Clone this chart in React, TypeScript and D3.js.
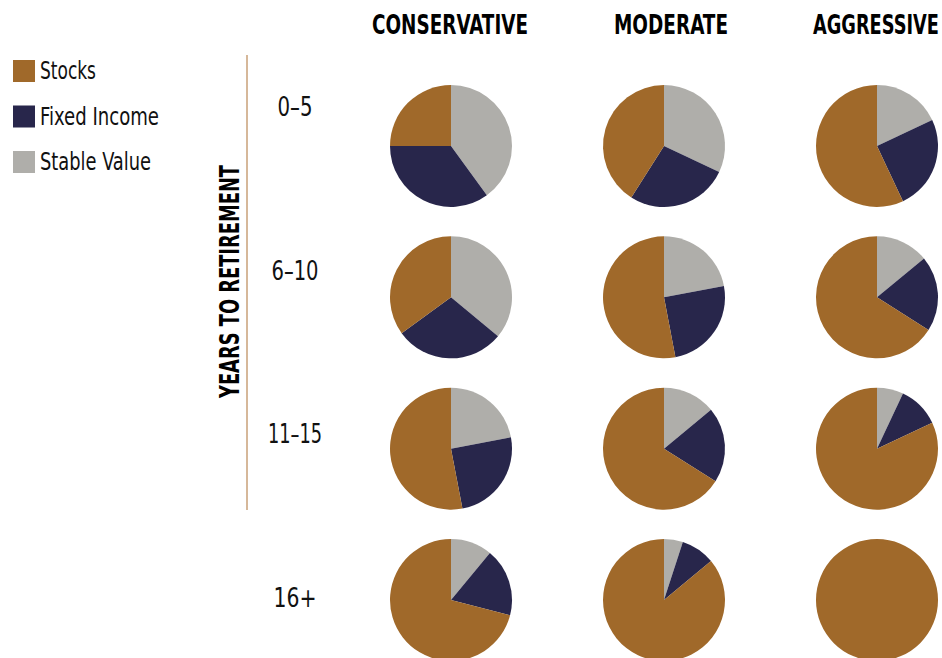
// Target-date style allocation grid: pies by risk profile and years to retirement.

import * as d3 from "d3";

const profiles = ["CONSERVATIVE", "MODERATE", "AGGRESSIVE"];
const horizons = ["0–5", "6–10", "11–15", "16+"];
const assetClasses = ["Stable Value", "Fixed Income", "Stocks"]; // clockwise from 12 o'clock
const legendOrder = ["Stocks", "Fixed Income", "Stable Value"];

// percent, rows = horizons, cols = profiles
const stablePct = [
  [40, 32, 18],
  [36, 22, 14],
  [22, 14, 7],
  [11, 5, 0],
];
const fixedPct = [
  [35, 27, 25],
  [29, 25, 20],
  [25, 20, 11],
  [18, 9, 0],
];
const stocksPct = [
  [25, 41, 57],
  [35, 53, 66],
  [53, 66, 82],
  [71, 86, 100],
];

// rendered widths of the condensed texts
const headerWidths = [156, 114, 126];
const legendWidths = [56, 119, 111];
const horizonWidths = [35, 47, 54, 43];

const colors: Record<string, string> = {
  Stocks: "#a0692a",
  "Fixed Income": "#28264b",
  "Stable Value": "#afaeaa",
};

export default function App() {
  const width = 942;
  const height = 658;
  const radius = 61;

  const x = d3.scalePoint(profiles, [451, 877]);
  const y = d3.scalePoint(d3.range(horizons.length), [146, 600]);
  const labelY = d3.scalePoint(horizons, [106, 597]);
  const legendY = d3.scalePoint(legendOrder, [71, 162]);

  const pie = d3
    .pie<number>()
    .sort(null)
    .value((d) => d);
  const arc = d3.arc<d3.PieArcDatum<number>>().innerRadius(0).outerRadius(radius);

  const narrow = "'Liberation Sans Narrow', 'DejaVu Sans Condensed', sans-serif";
  const heavy = "'DejaVu Sans Condensed', 'Liberation Sans Narrow', sans-serif";

  // header anchor points: left two centred-ish, last one flush to the right edge
  const headerX = [x(profiles[0])! - 1, x(profiles[1])! + 7, 939];
  const headerAnchor = ["middle", "middle", "end"];

  return (
    <svg
      width={width}
      height={height}
      style={{ position: "absolute", left: 0, top: 0, background: "#fff" }}
    >
      {/* column headers */}
      {profiles.map((p, i) => (
        <text
          key={p}
          x={headerX[i]}
          y={34}
          textAnchor={headerAnchor[i]}
          fontFamily={heavy}
          fontWeight="bold"
          fontSize={27}
          textLength={headerWidths[i]}
          lengthAdjust="spacingAndGlyphs"
          fill="#000"
        >
          {p}
        </text>
      ))}

      {/* legend */}
      {legendOrder.map((k, i) => (
        <g key={k} transform={`translate(13, ${legendY(k)! - 11})`}>
          <rect width={22} height={22} fill={colors[k]} />
          <text
            x={27}
            y={19}
            fontFamily={narrow}
            fontSize={24}
            textLength={legendWidths[i]}
            lengthAdjust="spacingAndGlyphs"
            fill="#111"
          >
            {k}
          </text>
        </g>
      ))}

      {/* axis title and rule */}
      <text
        transform="translate(239, 281.5) rotate(-90)"
        textAnchor="middle"
        fontFamily={heavy}
        fontWeight="bold"
        fontSize={26}
        textLength={233}
        lengthAdjust="spacingAndGlyphs"
        fill="#000"
      >
        YEARS TO RETIREMENT
      </text>
      <line x1={247} x2={247} y1={55} y2={510} stroke="#c8a078" strokeWidth={1.5} />

      {/* row labels */}
      {horizons.map((h, i) => (
        <text
          key={h}
          x={295 - horizonWidths[i] / 2}
          y={labelY(h)! + 10}
          fontFamily={narrow}
          fontSize={27}
          textLength={horizonWidths[i]}
          lengthAdjust="spacingAndGlyphs"
          fill="#111"
        >
          {h}
        </text>
      ))}

      {/* pies */}
      {horizons.map((h, r) =>
        profiles.map((p, c) => {
          const values = [stablePct[r][c], fixedPct[r][c], stocksPct[r][c]];
          return (
            <g key={`${h}-${p}`} transform={`translate(${x(p)}, ${y(r)})`}>
              {pie(values).map((d, i) => (
                <path key={i} d={arc(d)!} fill={colors[assetClasses[i]]} />
              ))}
            </g>
          );
        })
      )}
    </svg>
  );
}
